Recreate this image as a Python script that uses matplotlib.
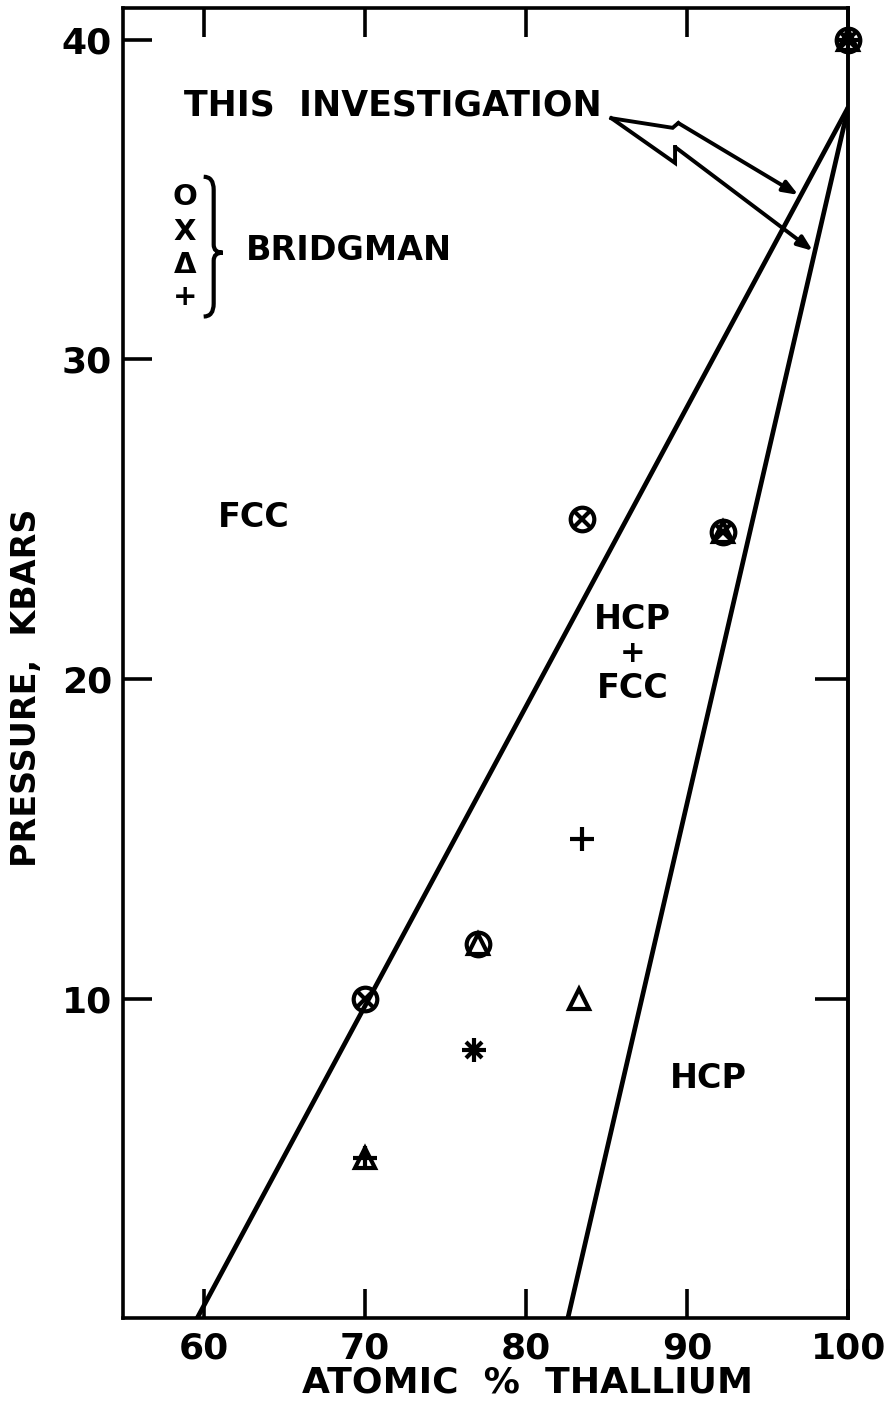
import matplotlib
matplotlib.use('Agg')
import matplotlib.pyplot as plt
from matplotlib.path import Path
from matplotlib.patches import PathPatch

# phase boundaries (atomic % Tl, kbar)
fcc_edge_x = [59.6, 100]
fcc_edge_y = [0, 37.9]
hcp_edge_x = [82.6, 100]
hcp_edge_y = [0, 37.9]

# Bridgman points, one list per symbol
circ_x = [70, 77, 83.5, 92.2, 100]
circ_y = [10, 11.7, 25, 24.6, 40]
cross_x = [70, 76.8, 83.5, 92.2, 100]
cross_y = [10, 8.4, 25, 24.6, 40]
tri_x = [70, 77, 83.3, 92.2, 100]
tri_y = [5, 11.7, 10, 24.6, 40]
plus_x = [70, 76.8, 83.5, 100]
plus_y = [5, 8.4, 15, 40]

xticks = [60, 70, 80, 90, 100]
yticks = [10, 20, 30, 40]
right_ticks = [10, 20]

# arrow from "THIS INVESTIGATION" (two zig-zag legs)
arrow_a_x = [85.3, 89.1, 89.45, 96.9]
arrow_a_y = [37.55, 37.25, 37.4, 35.15]
arrow_b_x = [85.3, 89.25, 89.25, 97.8]
arrow_b_y = [37.55, 36.15, 36.65, 33.4]

plt.rcParams['font.family'] = ['DejaVu Sans']
plt.rcParams['font.weight'] = 'bold'
fig = plt.figure(figsize=(8.92, 14.05), dpi=100)
ax = fig.add_axes([0.138, 0.0619, 0.813, 0.9324])
ax.set_xlim(55, 100)
ax.set_ylim(0, 41)

lw = 3.4
ax.plot(fcc_edge_x, fcc_edge_y, color='k', lw=lw, solid_capstyle='butt')
ax.plot(hcp_edge_x, hcp_edge_y, color='k', lw=lw, solid_capstyle='butt')

mk = dict(ls='none', color='k', mew=3, clip_on=False, zorder=5)
ax.plot(circ_x, circ_y, marker='o', ms=17, mfc='none', **mk)
ax.plot(cross_x, cross_y, marker='x', ms=12, **mk)
ax.plot(tri_x, tri_y, marker='^', ms=15, mfc='none', **mk)
ax.plot(plus_x, plus_y, marker='+', ms=17, **mk)

# arrows
for axs, ays in [(arrow_a_x, arrow_a_y), (arrow_b_x, arrow_b_y)]:
    ax.plot(axs[:-1], ays[:-1], color='k', lw=2.8, solid_joinstyle='miter')
    ax.annotate('', xy=(axs[-1], ays[-1]), xytext=(axs[-2], ays[-2]),
                arrowprops=dict(arrowstyle='-|>,head_length=0.9,head_width=0.35',
                                color='k', lw=2.8, shrinkA=0, shrinkB=0))

tfs = 24
ax.text(58.8, 37.95, 'THIS  INVESTIGATION', fontsize=25, ha='left', va='center')
ax.text(62.6, 33.4, 'BRIDGMAN', fontsize=tfs, ha='left', va='center')
for s, yy in zip(['O', 'X', 'Δ', '+'], [35.1, 34.0, 32.95, 31.95]):
    ax.text(58.85, yy, s, fontsize=21, ha='center', va='center')

# brace
def bx(px):
    return 60 + (px - 204) / 16.1
def by(py):
    return 40 - (py - 40) / 32
verts = [(bx(204), by(177)), (bx(214), by(177)), (bx(214), by(190)),
         (bx(214), by(245)), (bx(214), by(253)), (bx(223), by(253)),
         (bx(214), by(253)), (bx(214), by(261)), (bx(214), by(304)),
         (bx(214), by(317)), (bx(204), by(317))]
codes = [Path.MOVETO, Path.CURVE3, Path.CURVE3, Path.LINETO, Path.CURVE3, Path.CURVE3,
         Path.CURVE3, Path.CURVE3, Path.LINETO, Path.CURVE3, Path.CURVE3]
ax.add_patch(PathPatch(Path(verts, codes), fill=False, lw=3, color='k'))

ax.text(63.1, 25.05, 'FCC', fontsize=tfs, ha='center', va='center')
ax.text(86.6, 21.85, 'HCP', fontsize=tfs, ha='center', va='center')
ax.text(86.6, 20.8, '+', fontsize=22, ha='center', va='center')
ax.text(86.6, 19.7, 'FCC', fontsize=tfs, ha='center', va='center')
ax.text(91.3, 7.5, 'HCP', fontsize=tfs, ha='center', va='center')

ax.set_xticks(xticks)
ax.set_yticks(yticks)
ax.tick_params(direction='in', length=21, width=2.6, labelsize=26, pad=8,
               top=True, right=False)
ax.tick_params(axis='x', pad=10)
for sp in ax.spines.values():
    sp.set_linewidth(2.6)

sec = ax.secondary_yaxis('right')
sec.set_yticks(right_ticks)
sec.tick_params(direction='in', length=24, width=2.6, labelright=False)
sec.spines['right'].set_linewidth(2.6)

ax.set_xlabel('ATOMIC  %  THALLIUM', fontsize=26, fontweight='bold')
ax.xaxis.set_label_coords(0.557, -0.036)
fig.text(27 / 892, 1 - 688 / 1405, 'PRESSURE,  KBARS', fontsize=24,
         rotation=90, ha='center', va='center')

fig.savefig('out.png', dpi=100)
